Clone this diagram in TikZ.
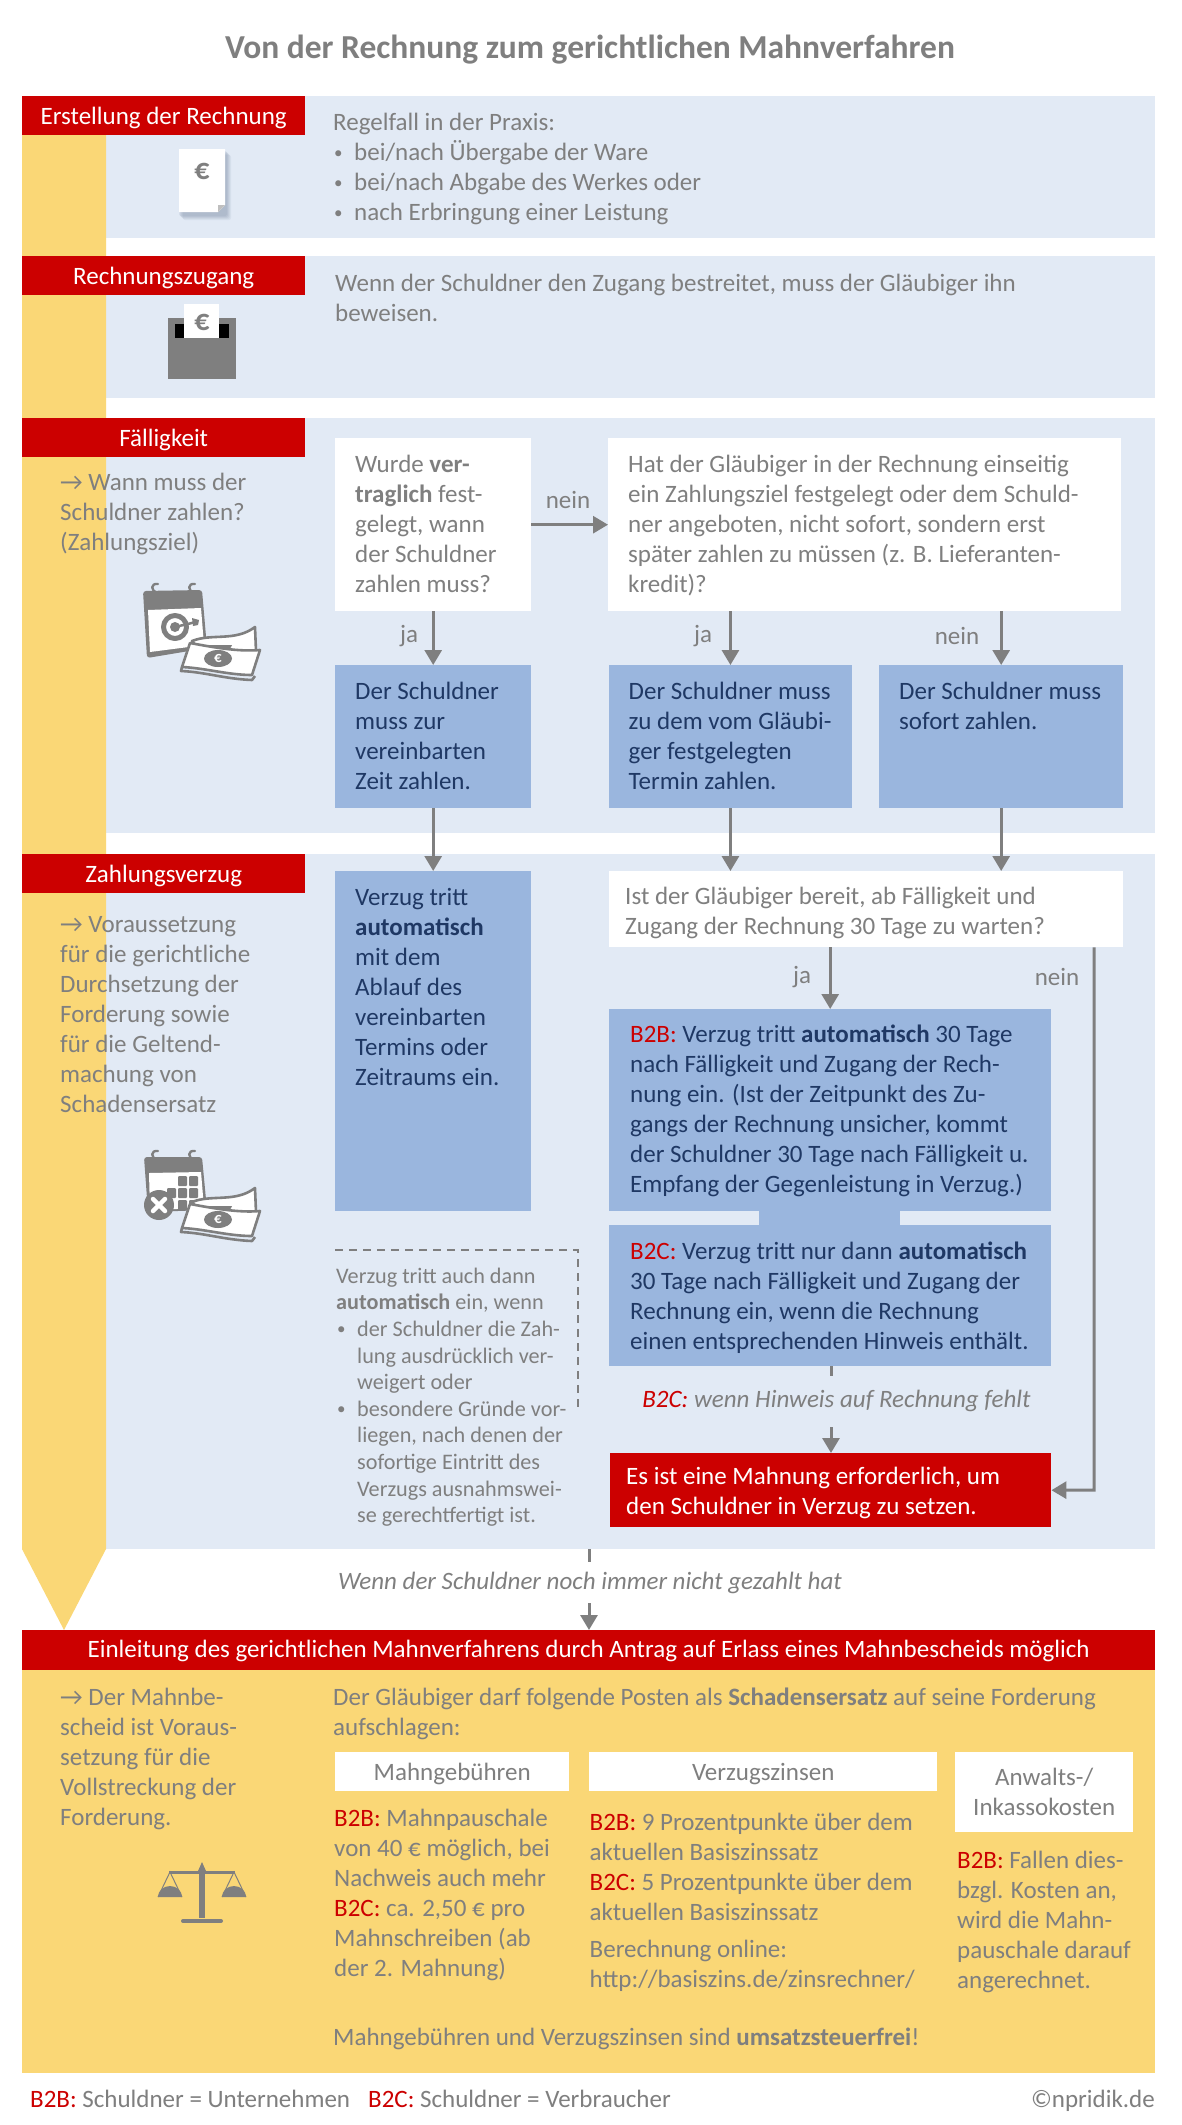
\documentclass[tikz,border=0pt]{standalone}
\usepackage{fontspec}
\setmainfont{Carlito}
\usetikzlibrary{arrows.meta,calc}
\definecolor{gtxt}{HTML}{7F7F7F}
\definecolor{dblue}{HTML}{1F3864}
\definecolor{rd}{HTML}{CC0000}
\definecolor{lblue}{HTML}{E2EAF5}
\definecolor{mblue}{HTML}{9AB6DE}
\definecolor{yel}{HTML}{FAD776}
\definecolor{shad}{HTML}{7C8BA3}
\newcommand{\bt}[5]{\parbox[c][#2pt][t]{#1pt}{\baselineskip=30pt\leftskip=#3pt\rightskip=0pt plus 1fil\parindent=0pt\parfillskip=0pt plus 1fil\leavevmode\rule{0pt}{#4pt}#5}}
\newcommand{\tl}{\rule{0pt}{24pt}}
\newcommand{\bul}{\makebox[21pt][l]{\hspace{1pt}\fontsize{17}{17}\selectfont\raisebox{1.5pt}{•}}}
\newcommand{\bb}{\textcolor{rd}}
\newcommand{\moneyicon}[1]{%
\begin{scope}[shift={(0,#1)},line join=round]
 \fill[white,draw=gtxt,line width=2.6pt] (192,641) .. controls (212,633) and (235,642) .. (255,627) -- (256,651) -- (200,651) -- cycle;
 \fill[gtxt] (206,645) arc[start angle=180,end angle=0,x radius=13,y radius=6] -- cycle;
 \draw[gtxt,line width=2.6pt] (182,667) -- (181,671) .. controls (205,672) and (225,679) .. (252,680) -- (255,676) ;
 \fill[white,draw=gtxt,line width=2.6pt] (190,643) .. controls (212,647) and (238,652) .. (260,650) -- (252,675) .. controls (228,675) and (205,668) .. (182,667) -- cycle;
 \fill[gtxt] (218,658.5) ellipse[x radius=14,y radius=8.5];
 \node[font=\fontsize{15}{15}\selectfont\bfseries,text=white,inner sep=0pt] at (218,658.5) {€};
\end{scope}}
\begin{document}
\begin{tikzpicture}[x=1pt,y=-1pt,
 body/.style={font=\fontsize{25}{30}\selectfont,text=gtxt},
 txt/.style={body,inner sep=0pt,anchor=north west,align=left},
 lab/.style={body,inner sep=0pt,anchor=center},
 sec/.style={fill=lblue,inner sep=0pt,anchor=north west,minimum height=#1},
 hdr/.style={fill=rd,text=white,font=\fontsize{25}{30}\selectfont,inner sep=0pt,minimum width=283pt,minimum height=39pt,anchor=north west,text height=19pt,text depth=2pt},
 wbox/.style={body,fill=white,inner sep=0pt,anchor=north west},
 bbox/.style={fill=mblue,text=dblue,font=\fontsize{25}{30}\selectfont,inner sep=0pt,anchor=north west},
 rbox/.style={fill=rd,text=white,font=\fontsize{25}{30}\selectfont,inner sep=0pt,anchor=north west},
 conn/.style={draw=gtxt,line width=3pt},
 arr/.style={conn,-{Triangle[length=15pt,width=17pt]}},
 stub/.style={conn},
 dbox/.style={draw=gtxt,line width=2pt,dash pattern=on 8pt off 6pt},
]
\useasboundingbox (0,0) rectangle (1181,2125);
\fill[white] (0,0) rectangle (1181,2125);
% title
\node[inner sep=0pt,text=gtxt,font=\fontsize{33.5}{38}\selectfont\bfseries] (title) at (590,50) {Von der Rechnung zum gerichtlichen Mahnverfahren};
% section backgrounds
\node[sec=142pt,minimum width=1049pt] (s1) at (106,96) {};
\node[sec=142pt,minimum width=1049pt] (s2) at (106,256) {};
\node[sec=415pt,minimum width=1049pt] (s3) at (106,418) {};
\node[sec=695pt,minimum width=1049pt] (s4) at (106,854) {};
% yellow arrow and bottom panel
\fill[yel] (22,135) -- (106,135) -- (106,1549) -- (64,1630) -- (22,1549) -- cycle;
\node[fill=yel,inner sep=0pt,anchor=north west,minimum width=1133pt,minimum height=403pt] (panel) at (22,1670) {};
% headers
\node[hdr] (h1) at (22,96) {Erstellung der Rechnung};
\node[hdr] (h2) at (22,256) {Rechnungszugang};
\node[hdr] (h3) at (22,418) {Fälligkeit};
\node[hdr] (h4) at (22,854) {Zahlungsverzug};
\node[hdr,minimum width=1133pt,minimum height=40pt,text height=16pt] (h5) at (22,1630) {Einleitung des gerichtlichen Mahnverfahrens durch Antrag auf Erlass eines Mahnbescheids möglich};
% section 1
\node[txt] (t1) at (333,106) {\tl Regelfall in der Praxis:\\\bul bei/nach Übergabe der Ware\\\bul bei/nach Abgabe des Werkes oder\\\bul nach Erbringung einer Leistung};
% invoice icon
\foreach \d/\o in {7/.10,6/.10,5/.12,4/.14,3/.14}{\fill[shad,opacity=\o,rounded corners=2pt] (179+\d-3,149+\d-1) rectangle (225+\d-1,212+\d+1);}
\fill[white] (179,149) -- (225,149) -- (225,205) -- (218,212) -- (179,212) -- cycle;
\fill[lightgray] (225,205) -- (218,212) -- (218,205) -- cycle;
\node[inner sep=0pt,text=gtxt,font=\fontsize{30}{30}\selectfont\bfseries] (e1) at (202,171) {€};
% section 2
\node[txt] (t2) at (335,267) {\tl Wenn der Schuldner den Zugang bestreitet, muss der Gläubiger ihn\\beweisen.};
% mailbox icon
\fill[gtxt] (168,318) rectangle (236,379);
\fill[black] (175,324) rectangle (229,338);
\fill[white] (184,304) rectangle (219,338);
\node[inner sep=0pt,text=gtxt,font=\fontsize{30}{30}\selectfont\bfseries] (e2) at (202,322) {€};
% section 3
\node[txt] (t3) at (60,466) {\tl → Wann muss der\\Schuldner zahlen?\\(Zahlungsziel)};
% calendar target icon
\begin{scope}[line join=round]
 \fill[gtxt,rounded corners=3pt] (143,591) -- (202,590) -- (207,648) -- (147,658) -- cycle;
 \fill[white] (148,610) -- (201,608) -- (204,645) -- (150,652) -- cycle;
 \foreach \rx in {155,192}{\draw[gtxt,line width=2.4pt,line cap=round] (\rx+3,584) .. controls (\rx-5,583) and (\rx-4,591) .. (\rx+2,593) .. controls (\rx+6,597) and (\rx,604) .. (\rx-4,601);}
 \draw[gtxt,line width=5pt] (175,627) circle[radius=11.5];
 \fill[gtxt] (175,627) circle[radius=5];
 \draw[gtxt,line width=2.5pt] (175,627) -- (196,622);
 \fill[gtxt] (192,618) -- (199,620) -- (198,625) -- (193,626) -- cycle;
\end{scope}
\moneyicon{0}
\node[wbox] (q1) at (335,438) {\bt{196}{173}{20}{34}{Wurde \textbf{ver-}\\\textbf{traglich} fest-\\gelegt, wann\\der Schuldner\\zahlen muss?}};
\node[wbox] (q2) at (608,438) {\bt{513}{173}{20}{34}{Hat der Gläubiger in der Rechnung einseitig\\ein Zahlungsziel festgelegt oder dem Schuld-\\ner angeboten, nicht sofort, sondern erst\\später zahlen zu müssen (z. B. Lieferanten-\\kredit)?}};
\node[bbox] (a1) at (335,665) {\bt{196}{143}{20}{34}{Der Schuldner\\muss zur\\vereinbarten\\Zeit zahlen.}};
\node[bbox] (a2) at (608.5,665) {\bt{243.5}{143}{20}{34}{Der Schuldner muss\\zu dem vom Gläubi-\\ger festgelegten\\Termin zahlen.}};
\node[bbox] (a3) at (879,665) {\bt{244}{143}{20}{34}{Der Schuldner muss\\sofort zahlen.}};
\draw[arr] (q1.east) -- (q2.west);
\draw[arr] (q1.south) -- (a1.north);
\draw[arr] (q2.south -| a2.north) -- (a2.north);
\draw[arr] (q2.south -| a3.north) -- (a3.north);
\node[lab] (l1) at (568,500) {nein};
\node[lab] (l2) at (409,636) {ja};
\node[lab] (l3) at (703,636) {ja};
\node[lab] (l4) at (957,636) {nein};
% section 4
\node[txt] (t4) at (60,908) {\tl → Voraussetzung\\für die gerichtliche\\Durchsetzung der\\Forderung sowie\\für die Geltend-\\machung von\\Schadensersatz};
% calendar cross icon
\begin{scope}[line join=round]
 \fill[gtxt,rounded corners=3pt] (144,1157) -- (202,1157) -- (207,1210) -- (148,1212) -- cycle;
 \fill[white] (149,1173) -- (201,1172) -- (204,1208) -- (150,1210) -- cycle;
 \foreach \rx in {155,192}{\draw[gtxt,line width=2.4pt,line cap=round] (\rx+3,1151) .. controls (\rx-5,1150) and (\rx-4,1158) .. (\rx+2,1160) .. controls (\rx+6,1164) and (\rx,1171) .. (\rx-4,1168);}
 \foreach \gx/\gy in {178/1176,189/1176,178/1188,189/1188,167/1188,178/1200,189/1200}{\fill[gtxt,rounded corners=1pt] (\gx,\gy) rectangle ++(9,10);}
 \fill[gtxt] (159,1205) circle[radius=15];
 \draw[white,line width=4.5pt,line cap=round] (153,1199) -- (165,1211) (165,1199) -- (153,1211);
\end{scope}
\moneyicon{561}
\node[bbox] (v1) at (335,871) {\bt{196}{340}{20}{34}{Verzug tritt\\\textbf{automatisch}\\mit dem\\Ablauf des\\vereinbarten\\Termins oder\\Zeitraums ein.}};
\node[wbox] (q3) at (609,871) {\bt{514}{76}{16}{33.5}{Ist der Gläubiger bereit, ab Fälligkeit und\\Zugang der Rechnung 30 Tage zu warten?}};
\draw[arr] (a1.south) -- (v1.north);
\draw[arr] (a2.south) -- (a2.south |- q3.north);
\draw[arr] (a3.south) -- (a3.south |- q3.north);
% dashed note
\coordinate (d1) at (335,1250);
\coordinate (d2) at (578,1250);
\coordinate (d3) at (578,1407);
\draw[dbox] (d1) -- (d2) -- (d3);
\node[txt,font=\fontsize{22.2}{26.6}\selectfont] (dn) at (336,1259) {\tl Verzug tritt auch dann\\\textbf{automatisch} ein, wenn\\\bul der Schuldner die Zah-\\\hspace*{21pt}lung ausdrücklich ver-\\\hspace*{21pt}weigert oder\\\bul besondere Gründe vor-\\\hspace*{21pt}liegen, nach denen der\\\hspace*{21pt}sofortige Eintritt des\\\hspace*{21pt}Verzugs ausnahmswei-\\\hspace*{21pt}se gerechtfertigt ist.};
% right column
\node[bbox] (b2b) at (609,1009) {\bt{442}{202}{21}{33}{\bb{B2B:} Verzug tritt \textbf{automatisch} 30 Tage\\nach Fälligkeit und Zugang der Rech-\\nung ein. (Ist der Zeitpunkt des Zu-\\gangs der Rechnung unsicher, kommt\\der Schuldner 30 Tage nach Fälligkeit u.\\Empfang der Gegenleistung in Verzug.)}};
\node[bbox] (b2c) at (609,1225) {\bt{442}{141}{21}{34}{\bb{B2C:} Verzug tritt nur dann \textbf{automatisch}\\30 Tage nach Fälligkeit und Zugang der\\Rechnung ein, wenn die Rechnung\\einen entsprechenden Hinweis enthält.}};
\fill[mblue] (759,1211) rectangle (900,1225);
\node[rbox] (mah) at (610,1453) {\bt{441}{74}{16}{31}{Es ist eine Mahnung erforderlich, um\\den Schuldner in Verzug zu setzen.}};
\draw[arr] (b2b.north |- q3.south) -- (b2b.north);
\node[lab] (l5) at (802,977) {ja};
\node[lab] (l6) at (1057,977) {nein};
\coordinate (nk) at (1094,1490);
\draw[arr] (nk |- q3.south) -- (nk) -- (mah.east);
\coordinate (cs1) at (831,1376);
\coordinate (cs2) at (831,1427);
\draw[stub] (b2c.south -| cs1) -- (cs1);
\node[lab,font=\fontsize{25}{30}\selectfont\itshape] (l7) at (836.5,1401) {\bb{B2C:} wenn Hinweis auf Rechnung fehlt};
\draw[arr] (cs2) -- (mah.north -| cs2);
% to bottom
\coordinate (cs3) at (589,1562);
\coordinate (cs4) at (589,1603);
\draw[stub] (s4.south -| cs3) -- (cs3);
\node[lab,font=\fontsize{25}{30}\selectfont\itshape] (l8) at (590,1583) {Wenn der Schuldner noch immer nicht gezahlt hat};
\draw[arr] (cs4) -- (h5.north -| cs4);
% bottom panel
\node[txt] (t5) at (60,1681) {\tl → Der Mahnbe-\\scheid ist Voraus-\\setzung für die\\Vollstreckung der\\Forderung.};
\node[txt] (t6) at (333,1681) {\tl Der Gläubiger darf folgende Posten als \textbf{Schadensersatz} auf seine Forderung\\aufschlagen:};
\node[wbox,minimum width=234pt,minimum height=39pt,text height=19pt,text depth=2pt] (w1) at (335,1752) {Mahngebühren};
\node[wbox,minimum width=348pt,minimum height=39pt,text height=19pt,text depth=2pt] (w2) at (589,1752) {Verzugszinsen};
\node[wbox,minimum width=178pt,minimum height=80pt,align=center] (w3) at (955,1752) {Anwalts-/\\Inkassokosten};
\node[txt] (c1) at (334,1802) {\tl \bb{B2B:} Mahnpauschale\\von 40 € möglich, bei\\Nachweis auch mehr\\\bb{B2C:} ca. 2,50 € pro\\Mahnschreiben (ab\\der 2. Mahnung)};
\node[txt] (c2) at (589.5,1806) {\tl \bb{B2B:} 9 Prozentpunkte über dem\\aktuellen Basiszinssatz\\\bb{B2C:} 5 Prozentpunkte über dem\\aktuellen Basiszinssatz};
\node[txt] (c2b) at (589.5,1933) {\tl Berechnung online:\\http://basiszins.de/zinsrechner/};
\node[txt] (c3) at (957,1844) {\tl \bb{B2B:} Fallen dies-\\bzgl. Kosten an,\\wird die Mahn-\\pauschale darauf\\angerechnet.};
\node[txt] (c4) at (333,2021) {\tl Mahngebühren und Verzugszinsen sind \textbf{umsatzsteuerfrei}!};
% scales icon
\fill[gtxt] (169,1870.5) rectangle (235,1873.5);
\fill[gtxt] (199,1872) rectangle (205,1918);
\fill[gtxt] (202,1862) -- (206,1871) -- (202,1878) -- (198,1871) -- cycle;
\draw[gtxt,line width=4pt,line cap=round] (183,1921) -- (221,1921);
\draw[gtxt,line width=1pt] (158,1897) -- (170,1872) -- (182,1897) (222,1897) -- (234,1872) -- (246,1897);
\fill[gtxt] (158,1897) arc[start angle=180,end angle=360,x radius=12,y radius=11] -- cycle;
\fill[gtxt] (222,1897) arc[start angle=180,end angle=360,x radius=12,y radius=11] -- cycle;
% footer
\node[txt] (f1) at (30,2083) {\tl \bb{B2B:} Schuldner = Unternehmen};
\node[txt] (f2) at (368,2083) {\tl \bb{B2C:} Schuldner = Verbraucher};
\node[txt,anchor=north east] (f3) at (1155,2083) {\tl ©npridik.de};
\end{tikzpicture}
\end{document}
